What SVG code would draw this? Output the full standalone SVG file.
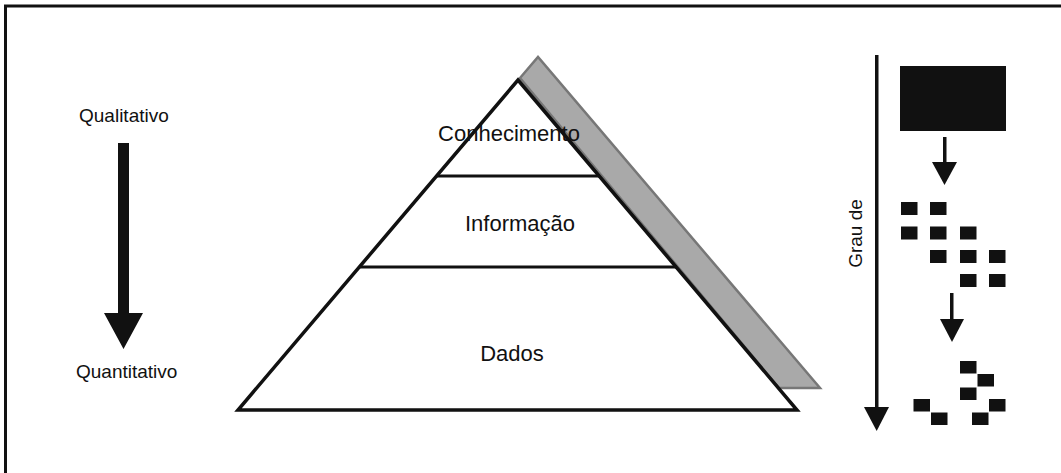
<svg xmlns="http://www.w3.org/2000/svg" width="1061" height="473" viewBox="0 0 1061 473">
<style>
.t{font-family:"Liberation Sans",Arial,sans-serif;fill:#111}
.lvl{font-size:22px;text-anchor:middle}
.side{font-size:19px}
.blk{fill:#111}
.sep{stroke:#111;stroke-width:3;fill:none}
</style>
<rect width="1061" height="473" fill="#fff"/>
<path d="M5.5,473 V6 H1061" fill="none" stroke="#111" stroke-width="3"/>

<g id="shadow">
<polygon points="520,78 538,57 820,388 779,388" fill="#a9a9a9" stroke="#777" stroke-width="2.5" stroke-linejoin="miter"/>
</g>
<g id="pyramid">
<polygon points="518,80 797,410 238,410" fill="#fff" stroke="#111" stroke-width="3.5" stroke-linejoin="miter"/>
<line class="sep" x1="436" y1="176" x2="600" y2="176"/>
<line class="sep" x1="359" y1="267" x2="677" y2="267"/>
</g>
<g id="conhecimento"><text class="t lvl" x="509" y="141">Conhecimento</text></g>
<g id="informacao"><text class="t lvl" x="520" y="231">Informação</text></g>
<g id="dados"><text class="t lvl" x="512" y="361">Dados</text></g>

<g id="qualitativo"><text class="t side" x="79" y="122">Qualitativo</text></g>
<g id="quantitativo"><text class="t side" x="76" y="378">Quantitativo</text></g>

<g id="connectors">
<polygon class="blk" points="118,143 129,143 129,313 143,313 123.5,349 104,313 118,313"/>
<rect class="blk" x="875" y="55" width="3.5" height="355"/>
<polygon class="blk" points="864,407 889,407 876.7,431"/>
<rect class="blk" x="943" y="137" width="3.5" height="27"/>
<polygon class="blk" points="932,162 957,162 944.5,185"/>
<rect class="blk" x="950" y="293" width="3.5" height="28"/>
<polygon class="blk" points="940,319 964,319 952,342"/>
</g>

<g id="grau"><text class="t side" text-anchor="middle" transform="translate(862,233.5) rotate(-90)">Grau de</text></g>

<g id="bigblock"><rect class="blk" x="900" y="66" width="106" height="65"/></g>

<g id="grid" class="blk">
<rect x="901" y="202" width="16.5" height="13"/>
<rect x="930" y="202" width="16.5" height="13"/>
<rect x="901" y="226.5" width="16.5" height="13"/>
<rect x="930" y="226.5" width="16.5" height="13"/>
<rect x="960" y="226.5" width="16.5" height="13"/>
<rect x="930" y="250" width="16.5" height="13"/>
<rect x="960" y="250" width="16.5" height="13"/>
<rect x="989" y="250" width="16.5" height="13"/>
<rect x="960" y="274" width="16.5" height="13"/>
<rect x="989" y="274" width="16.5" height="13"/>
</g>

<g id="scatter" class="blk">
<rect x="960" y="361" width="16.5" height="12.5"/>
<rect x="977.5" y="374" width="16.5" height="12.5"/>
<rect x="960" y="387.5" width="16.5" height="12.5"/>
<rect x="913.5" y="399" width="16.5" height="12.5"/>
<rect x="931" y="412.5" width="16.5" height="12.5"/>
<rect x="989" y="399" width="16.5" height="12.5"/>
<rect x="972" y="412.5" width="16.5" height="12.5"/>
</g>
</svg>
